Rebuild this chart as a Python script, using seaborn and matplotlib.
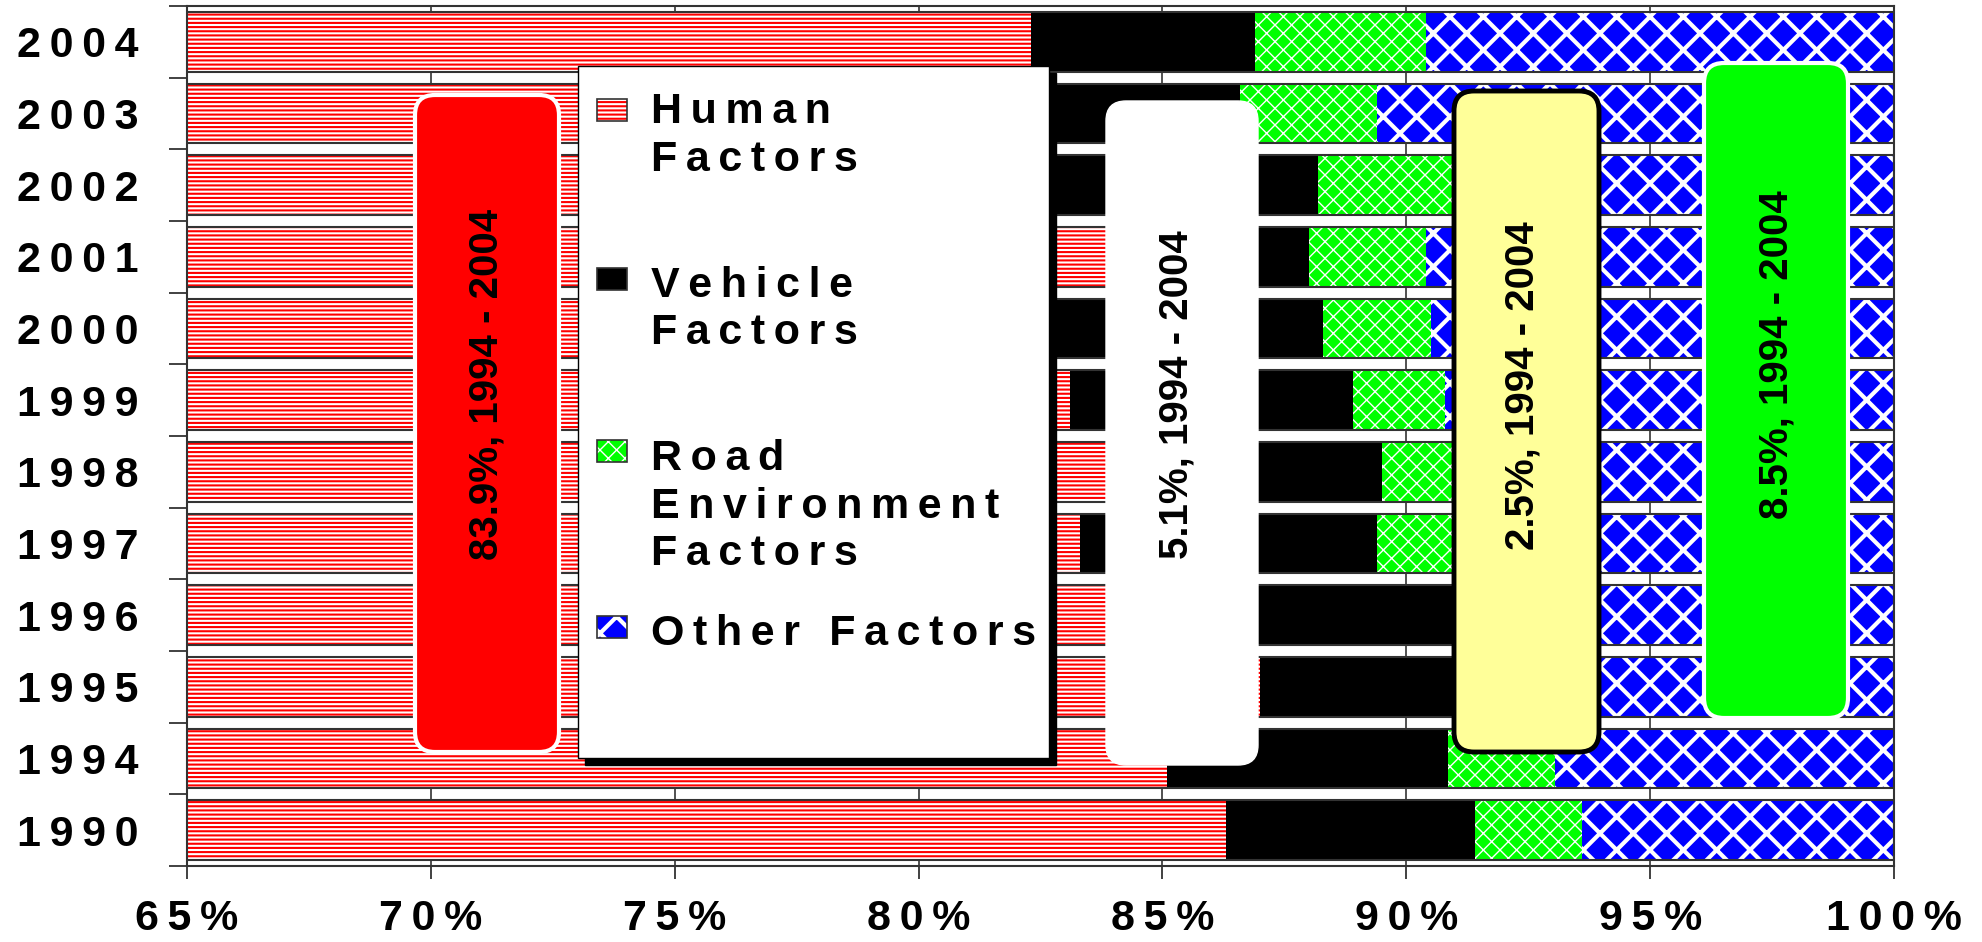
import matplotlib
matplotlib.use('Agg')
import numpy as np
import pandas as pd
import matplotlib.pyplot as plt
import seaborn as sns
from matplotlib.patches import Rectangle, FancyBboxPatch
from matplotlib.ticker import FixedLocator

# shares of accident causes per year (%)
years = ['2004', '2003', '2002', '2001', '2000', '1999', '1998', '1997', '1996', '1995', '1994', '1990']
human = [82.3, 82.0, 82.3, 84.5, 82.2, 83.1, 84.3, 83.3, 86.5, 87.0, 85.1, 86.3]
vehicle = [4.6, 4.6, 5.9, 3.5, 6.1, 5.8, 5.2, 6.1, 4.7, 4.6, 5.75, 5.1]
road = [3.5, 2.8, 2.8, 2.4, 2.2, 1.9, 2.4, 2.4, 2.4, 2.3, 2.2, 2.2]
other = [9.6, 10.6, 9.0, 9.6, 9.5, 9.2, 8.1, 8.2, 6.4, 6.1, 6.95, 6.4]

x_ticks = [65, 70, 75, 80, 85, 90, 95, 100]
x_tick_labels = ['65%', '70%', '75%', '80%', '85%', '90%', '95%', '100%']

legend_labels = [['Human', 'Factors'], ['Vehicle', 'Factors'],
                 ['Road', 'Environment', 'Factors'], ['Other Factors']]
box_labels = ['83.9%, 1994 - 2004', '5.1%, 1994 - 2004',
              '2.5%, 1994 - 2004', '8.5%, 1994 - 2004']

W, H = 1982, 942


def spaced(s):
    # the original text is letter-spaced
    return '\u2009'.join(s)


def inch(x, y):
    # pixel position (from top-left) -> inches from bottom-left
    return x / 100, (H - y) / 100


sns.set_theme(style='white')
plt.rcParams['font.family'] = ['Liberation Sans', 'DejaVu Sans']

df = pd.DataFrame({'year': years, 'human': human, 'vehicle': vehicle,
                   'road': road, 'other': other})
df['cum_h'] = df['human']
df['cum_v'] = df['cum_h'] + df['vehicle']
df['cum_r'] = df['cum_v'] + df['road']
df['cum_o'] = df['cum_r'] + df['other']

fig = plt.figure(figsize=(W / 100, H / 100), dpi=100)
ax = fig.add_axes([187 / W, 1 - 866 / H, 1707 / W, 860 / H])

# (column, face, hatch colour, hatch, hatch linewidth) - widest first
layers = [('cum_o', '#0000FF', 'white', 'x', 3.0),
          ('cum_r', '#00FF00', 'white', 'xx', 1.0),
          ('cum_v', 'black', 'black', None, 1.0),
          ('cum_h', 'white', '#FF0000', '----', 1.5)]
for col, face, hcol, hatch, hlw in layers:
    n0 = len(ax.patches)
    plt.rcParams['hatch.linewidth'] = hlw
    sns.barplot(data=df, x=col, y='year', order=years, orient='h', color=face,
                saturation=1, width=0.83, edgecolor=hcol, linewidth=0,
                hatch=hatch, ax=ax, zorder=2)
    for p in ax.patches[n0:]:
        if hasattr(p, 'set_hatch_linewidth'):
            p.set_hatch_linewidth(hlw)

# thin dark outline around each bar
sns.barplot(data=df, x='cum_o', y='year', order=years, orient='h', color='#333333',
            fill=False, saturation=1, width=0.83, linewidth=1.5, ax=ax, zorder=3)

ax.set_xlim(65, 100)
ax.set_ylim(11.5, -0.5)
ax.set_xlabel('')
ax.set_ylabel('')
ax.set_xticks(x_ticks)
ax.set_xticklabels([spaced(t) for t in x_tick_labels], fontsize=31, fontweight='bold', color='black')
ax.set_yticks(range(len(years)))
ax.set_yticklabels([spaced(t) for t in years], fontsize=31, fontweight='bold', color='black')
ax.yaxis.set_minor_locator(FixedLocator(np.arange(-0.5, len(years), 1)))
ax.tick_params(axis='y', which='major', length=0, pad=35, left=True)
ax.tick_params(axis='y', which='minor', length=13, width=1.3, color='#333333',
               direction='out', left=True)
ax.tick_params(axis='x', which='major', length=9.5, width=1.3, color='#333333',
               direction='out', pad=14, bottom=True)
ax.grid(axis='x', color='#333333', linewidth=1.2)
ax.grid(axis='y', visible=False)
ax.set_axisbelow(True)
for s in ax.spines.values():
    s.set_visible(True)
    s.set_color('#333333')
    s.set_linewidth(1.5)

# legend box with hard black shadow
lx0, ly0 = inch(578, 758)
fig.add_artist(Rectangle((lx0 + 0.07, ly0 - 0.07), 4.71, 6.92, transform=fig.dpi_scale_trans,
                         facecolor='black', edgecolor='black', zorder=4))
fig.add_artist(Rectangle((lx0, ly0), 4.71, 6.92, transform=fig.dpi_scale_trans,
                         facecolor='white', edgecolor='black', linewidth=1, zorder=5))

swatch_tops = [99, 268, 440, 616]
line_baselines = [[123, 171], [297, 344], [470, 518, 565], [645]]
for (col, face, hcol, hatch, hlw), top, lines, bases in zip(
        layers[::-1], swatch_tops, legend_labels, line_baselines):
    plt.rcParams['hatch.linewidth'] = hlw
    sx, sy = inch(597, top + 22)
    sw = Rectangle((sx, sy), 0.30, 0.22, transform=fig.dpi_scale_trans,
                   facecolor=face, edgecolor=hcol, hatch=hatch, linewidth=0, zorder=6)
    if hasattr(sw, 'set_hatch_linewidth'):
        sw.set_hatch_linewidth(hlw)
    fig.add_artist(sw)
    fig.add_artist(Rectangle((sx, sy), 0.30, 0.22, transform=fig.dpi_scale_trans,
                             facecolor='none', edgecolor='#333333', linewidth=1.2, zorder=6))
    for txt, b in zip(lines, bases):
        tx, ty = inch(651, b)
        fig.text(tx, ty, spaced(txt), transform=fig.dpi_scale_trans, fontsize=31,
                 fontweight='bold', color='black', va='baseline', ha='left', zorder=7)

# rounded call-out boxes with rotated averages
boxes = [((415, 95, 559, 752), '#FF0000', 'white', 3.0, (487, 384)),
         ((1106, 101, 1258, 765), 'white', 'white', 1.0, (1176, 395)),
         ((1454, 91, 1599, 752), '#FFFF99', 'black', 3.5, (1523, 386)),
         ((1704, 63, 1848, 718), '#00FF00', 'white', 3.0, (1776, 355))]
for ((x0, y0, x1, y1), face, edge, lw, (cx, cy)), label in zip(boxes, box_labels):
    bx, by = inch(x0, y1)
    fig.add_artist(FancyBboxPatch((bx, by), (x1 - x0) / 100, (y1 - y0) / 100,
                                  boxstyle='round,pad=0,rounding_size=0.2',
                                  transform=fig.dpi_scale_trans, facecolor=face,
                                  edgecolor=edge, linewidth=lw, zorder=8))
    tx, ty = inch(cx, cy)
    fig.text(tx, ty, label, transform=fig.dpi_scale_trans, rotation=90, fontsize=29,
             fontweight='bold', color='black', ha='center', va='center', zorder=9)

fig.savefig('out.png', dpi=100)
